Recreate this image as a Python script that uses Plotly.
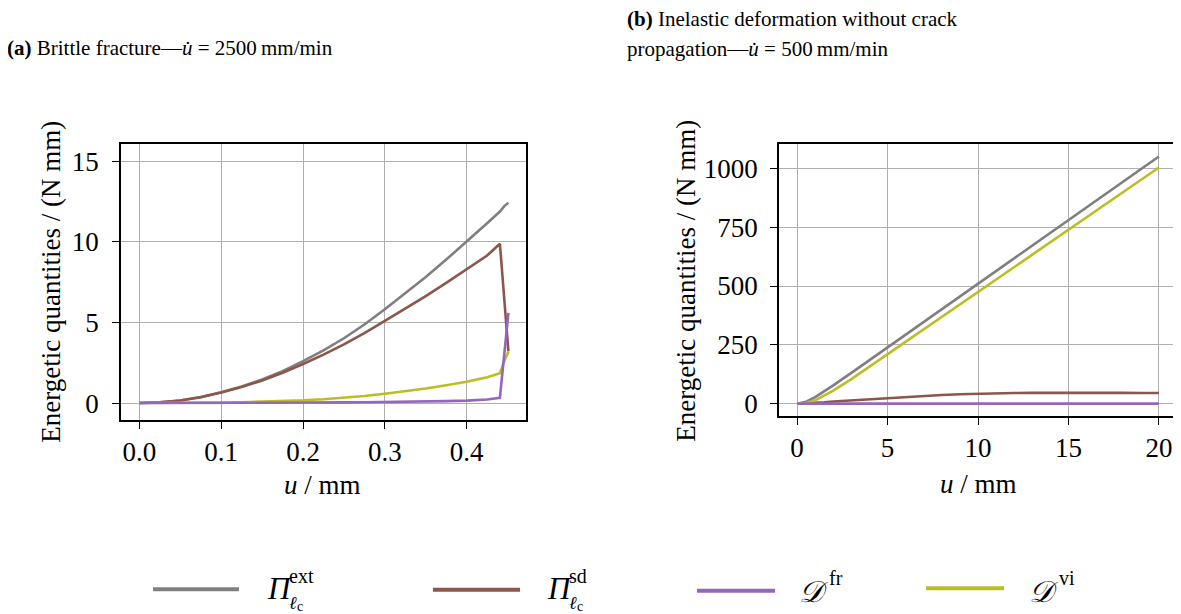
import plotly.graph_objects as go

W, H = 1181, 614
OFF = 8  # page body margin offset in the browser

# ---------------- Panel (a) data ----------------
u_a = [0.0, 0.025, 0.05, 0.075, 0.1, 0.125, 0.15, 0.175, 0.2, 0.225, 0.25,
       0.275, 0.3, 0.325, 0.35, 0.375, 0.4, 0.425, 0.4406, 0.446, 0.451]
pi_ext_a = [0.0, 0.04, 0.16, 0.37, 0.67, 1.03, 1.46, 1.98, 2.6, 3.27, 4.02,
            4.87, 5.82, 6.8, 7.82, 8.9, 10.0, 11.15, 11.88, 12.22, 12.42]
pi_sd_a = [0.0, 0.04, 0.16, 0.36, 0.66, 1.0, 1.4, 1.88, 2.42, 3.0, 3.64,
           4.34, 5.1, 5.85, 6.63, 7.45, 8.3, 9.15, 9.88, 6.6, 3.2]
d_vi_a = [0.0, 0.0, 0.0, 0.01, 0.03, 0.05, 0.08, 0.12, 0.17, 0.24, 0.33,
          0.44, 0.58, 0.73, 0.9, 1.1, 1.32, 1.6, 1.85, 2.6, 3.2]
d_fr_a = [0.0, 0.0, 0.0, 0.0, 0.0, 0.01, 0.01, 0.02, 0.02, 0.03, 0.04,
          0.05, 0.06, 0.08, 0.1, 0.12, 0.15, 0.22, 0.32, 3.2, 5.6]

# ---------------- Panel (b) data ----------------
u_b = [0, 0.5, 1, 1.5, 2, 3, 4, 5, 6, 7, 8, 9, 10, 11, 12, 13, 14, 15, 16,
       17, 18, 19, 20]
pi_ext_b = [0, 8, 28, 52, 78, 131, 185, 240, 294, 348, 402, 456, 510, 564,
            618, 672, 727, 781, 835, 889, 943, 997, 1051]
pi_sd_b = [0, 1, 3, 6, 9, 14, 19, 24, 29, 33, 37, 40, 42.5, 44, 45, 46,
           46.5, 46.5, 46.5, 46.5, 46, 45.5, 45]
d_fr_b = [0] * len(u_b)
d_vi_b = [0, 3, 14, 33, 55, 104, 157, 211, 263, 316, 369, 422, 476, 529,
          582, 635, 688, 741, 793, 846, 899, 952, 1004]

x_ticks_a = [0.0, 0.1, 0.2, 0.3, 0.4]
y_ticks_a = [0, 5, 10, 15]
x_ticks_b = [0, 5, 10, 15, 20]
y_ticks_b = [0, 250, 500, 750, 1000]

C_EXT = "#7f7f7f"
C_SD = "#8c564b"
C_FR = "#9467bd"
C_VI = "#bcbd22"

FONT = "Liberation Serif, Times New Roman, serif"


def px(x):
    return (x - OFF) / W


def py(y):
    return 1 - (y - OFF) / H


fig = go.Figure()
series_a = [(pi_ext_a, C_EXT), (pi_sd_a, C_SD), (d_vi_a, C_VI), (d_fr_a, C_FR)]
series_b = [(pi_ext_b, C_EXT), (pi_sd_b, C_SD), (d_vi_b, C_VI), (d_fr_b, C_FR)]
for ys, c in series_a:
    fig.add_trace(go.Scatter(x=u_a, y=ys, mode="lines", xaxis="x", yaxis="y",
                             line=dict(color=c, width=2.6), showlegend=False,
                             hoverinfo="skip"))
for ys, c in series_b:
    fig.add_trace(go.Scatter(x=u_b, y=ys, mode="lines", xaxis="x2", yaxis="y2",
                             line=dict(color=c, width=2.6), showlegend=False,
                             hoverinfo="skip"))

axcommon = dict(showline=True, linecolor="black", linewidth=1.5, mirror=True,
                ticks="outside", ticklen=7, tickwidth=1.3, tickcolor="black",
                showgrid=True, gridcolor="#b0b0b0", gridwidth=1, zeroline=False,
                tickfont=dict(family=FONT, size=27, color="black"))

fig.update_layout(
    width=W, height=H,
    margin=dict(l=0, r=0, t=0, b=0),
    paper_bgcolor="white", plot_bgcolor="white",
    xaxis=dict(domain=[px(121), px(526)], range=[-0.0225, 0.4725],
               tickvals=x_ticks_a, tickformat=".1f", anchor="y", **axcommon),
    yaxis=dict(domain=[py(422), py(145)], range=[-1.05, 16.05],
               tickvals=y_ticks_a, anchor="x", ticklabelstandoff=8, **axcommon),
    xaxis2=dict(domain=[px(779), px(1177)], range=[-1, 21],
                tickvals=x_ticks_b, anchor="y2", **axcommon),
    yaxis2=dict(domain=[py(418), py(145)], range=[-52.5, 1102.5],
                tickvals=y_ticks_b, anchor="x2", ticklabelstandoff=7,
                **axcommon),
)

ann = []


def text(x, y, s, size=27, xanchor="center", yanchor="middle", angle=0):
    ann.append(dict(x=px(x), y=py(y), xref="paper", yref="paper", text=s,
                    showarrow=False, xanchor=xanchor, yanchor=yanchor,
                    textangle=angle, borderpad=0,
                    font=dict(family=FONT, size=size, color="black")))


# Titles
text(6, 48, "<b>(a)</b> Brittle fracture—<i>u\u0307</i> = 2500\u2009mm/min",
     size=21, xanchor="left")
text(626, 19, "<b>(b)</b> Inelastic deformation without crack", size=21,
     xanchor="left")
text(626, 49, "propagation—<i>u\u0307</i> = 500\u2009mm/min", size=21,
     xanchor="left")

# Axis titles
text(322, 487, "<i>u</i> / mm")
text(978, 486, "<i>u</i> / mm")
text(51, 283, "Energetic quantities / (N mm)", angle=-90)
text(686, 282, "Energetic quantities / (N mm)", angle=-90)

# Legend
shapes = []
leg = [(153, 239, 592, C_EXT), (433, 520, 592.5, C_SD),
       (697, 775, 593.5, C_FR), (926, 1004, 591, C_VI)]
for x0, x1, yy, c in leg:
    shapes.append(dict(type="line", xref="paper", yref="paper",
                       x0=px(x0), x1=px(x1), y0=py(yy), y1=py(yy),
                       line=dict(color=c, width=4)))

# Pi entries
for xs, sup in [(266, "ext"), (546, "sd")]:
    text(xs, 591, "<i>Π</i>", size=31, xanchor="left")
    text(xs + 22, 579, sup, size=20, xanchor="left")
    text(xs + 22, 606, "<i>ℓ</i>", size=18, xanchor="left")
    text(xs + 30, 609, "c", size=14, xanchor="left")

for xs, sup in [(798, "fr"), (1028, "vi")]:
    text(xs, 594, "<i>\U0001D49F</i>", size=30, xanchor="left")
    text(xs + 30, 581, sup, size=20, xanchor="left")

fig.update_layout(annotations=ann, shapes=shapes)
fig.write_html("out.html")
